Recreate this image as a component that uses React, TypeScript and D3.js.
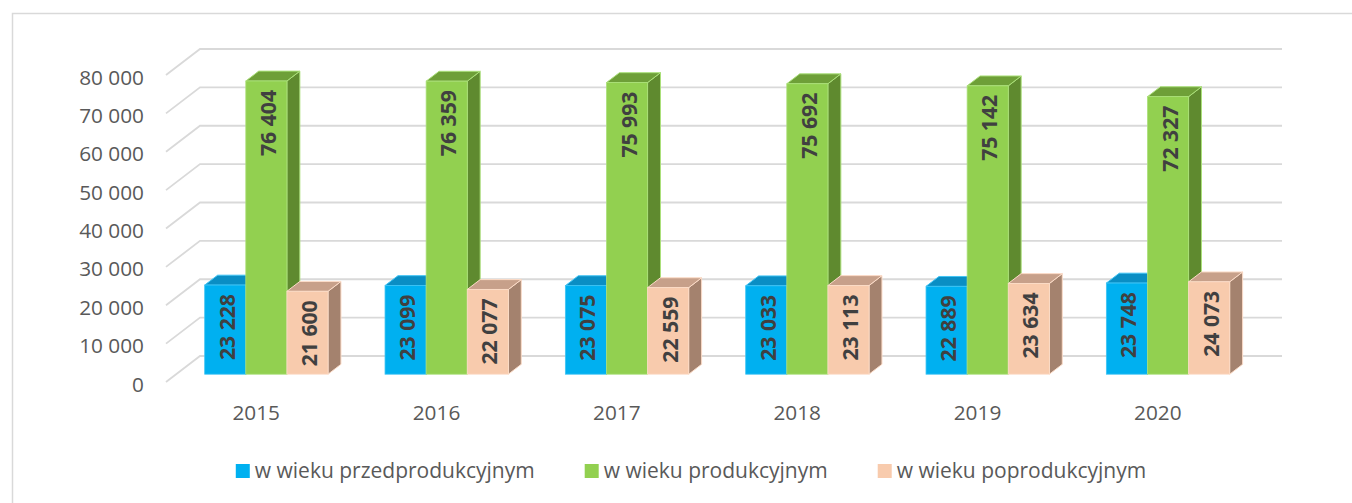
import React, { useEffect, useRef } from "react";
import * as d3 from "d3";

const years = ["2015", "2016", "2017", "2018", "2019", "2020"];
const przedprodukcyjny = [23228, 23099, 23075, 23033, 22889, 23748];
const produkcyjny = [76404, 76359, 75993, 75692, 75142, 72327];
const poprodukcyjny = [21600, 22077, 22559, 23113, 23634, 24073];
const seriesNames = [
  "w wieku przedprodukcyjnym",
  "w wieku produkcyjnym",
  "w wieku poprodukcyjnym",
];
const yTicks = [0, 10000, 20000, 30000, 40000, 50000, 60000, 70000, 80000];

const W = 1352;
const H = 503;
const FONT = "'Open Sans', 'Noto Sans', sans-serif";

const palette = [
  { front: "#00B0F0", top: "#0A8EC4", side: "#0076A6", edge: "#40C4F4" },
  { front: "#92D050", top: "#6E9F38", side: "#5F8A2F", edge: "#ABE07A" },
  { front: "#F8CBAD", top: "#C7A08A", side: "#A4826E", edge: "#FCDCC8" },
];

export default function App() {
  const ref = useRef<SVGSVGElement>(null);

  useEffect(() => {
    const svg = d3.select(ref.current);
    svg.selectAll("*").remove();

    const locale = d3.formatLocale({
      decimal: ",",
      thousands: "\u00a0",
      grouping: [3],
      currency: ["", " zł"],
    });
    const fmt = locale.format(",d");

    // projection
    const x0 = 166;
    const x1 = 1248;
    const DX = 34;
    const DY = 26;
    const d0 = 0.3;
    const d1 = 0.68;
    const y = d3.scaleLinear().domain([0, 80000]).range([382, 75]);

    const series = [przedprodukcyjny, produkcyjny, poprodukcyjny];

    // frame
    svg
      .append("rect")
      .attr("x", 12.5)
      .attr("y", 13.5)
      .attr("width", W + 20)
      .attr("height", H + 20)
      .attr("fill", "none")
      .attr("stroke", "#D9D9D9")
      .attr("stroke-width", 1.5);

    // gridlines
    const grid = svg.append("g");
    yTicks.forEach((t) => {
      const yf = y(t);
      grid
        .append("polyline")
        .attr(
          "points",
          `${x0},${yf} ${x0 + DX},${yf - DY} ${x1 + DX},${yf - DY}`
        )
        .attr("fill", "none")
        .attr("stroke", "#D9D9D9")
        .attr("stroke-width", 1.8);
    });

    // y axis labels
    svg
      .append("g")
      .selectAll("text")
      .data(yTicks)
      .join("text")
      .attr("x", 144)
      .attr("y", (d) => y(d) + 1.5)
      .attr("text-anchor", "end")
      .attr("dominant-baseline", "central")
      .attr("font-family", FONT)
      .attr("font-size", 20.8)
      .attr("fill", "#595959")
      .text((d) => fmt(d));

    const xBand = d3
      .scaleBand<string>()
      .domain(years)
      .range([x0, x1])
      .paddingInner(0.316)
      .paddingOuter(0.158);
    const inner = d3
      .scaleBand<number>()
      .domain([0, 1, 2])
      .range([0, xBand.bandwidth()]);

    const bars = svg.append("g");
    const labels: { x: number; y: number; v: number }[] = [];
    years.forEach((yr, i) => {
      series.forEach((vals, s) => {
        const v = vals[i];
        const c = palette[s];
        const fx = (xBand(yr) as number) + (inner(s) as number);
        const w = inner.bandwidth();
        const ox = d0 * DX;
        const oy = d0 * DY;
        const bx = d1 * DX;
        const by = d1 * DY;
        const left = fx + ox;
        const right = fx + w + ox;
        const bottom = y(0) - oy;
        const top = y(v) - oy;
        const bLeft = fx + bx;
        const bRight = fx + w + bx;
        const bTop = y(v) - by;
        const bBottom = y(0) - by;
        const g = bars.append("g");
        // side face
        g.append("polygon")
          .attr(
            "points",
            `${right},${top} ${bRight},${bTop} ${bRight},${bBottom} ${right},${bottom}`
          )
          .attr("fill", c.side)
          .attr("stroke", c.edge)
          .attr("stroke-width", 1)
          .attr("stroke-linejoin", "round");
        // top face
        g.append("polygon")
          .attr(
            "points",
            `${left},${top} ${bLeft},${bTop} ${bRight},${bTop} ${right},${top}`
          )
          .attr("fill", c.top)
          .attr("stroke", c.edge)
          .attr("stroke-width", 1)
          .attr("stroke-linejoin", "round");
        // front face
        g.append("rect")
          .attr("x", left)
          .attr("y", top)
          .attr("width", w)
          .attr("height", bottom - top)
          .attr("fill", c.front)
          .attr("stroke", c.edge)
          .attr("stroke-width", 0.8);
        labels.push({ x: left + w / 2 + 1, y: top + 42, v });
      });
    });

    // data labels
    svg
      .append("g")
      .selectAll("text")
      .data(labels)
      .join("text")
      .attr("transform", (d) => `translate(${d.x},${d.y}) rotate(-90)`)
      .attr("text-anchor", "middle")
      .attr("dominant-baseline", "central")
      .attr("font-family", FONT)
      .attr("font-size", 21.2)
      .attr("font-weight", "bold")
      .attr("fill", "#404040")
      .text((d) => fmt(d.v));

    // category labels
    svg
      .append("g")
      .selectAll("text")
      .data(years)
      .join("text")
      .attr("x", (d) => (xBand(d) as number) + xBand.bandwidth() / 2)
      .attr("y", 420)
      .attr("text-anchor", "middle")
      .attr("font-family", FONT)
      .attr("font-size", 20.8)
      .attr("fill", "#595959")
      .text((d) => d);

    // legend
    const lg = svg.append("g");
    const sq = 14;
    const gapText = 5;
    const gapItem = 50;
    const items = seriesNames.map((name, i) => {
      const gi = lg.append("g");
      gi.append("rect")
        .attr("width", sq)
        .attr("height", sq)
        .attr("y", 464)
        .attr("fill", palette[i].front);
      const t = gi
        .append("text")
        .attr("x", sq + gapText)
        .attr("y", 478)
        .attr("font-family", FONT)
        .attr("font-size", 21)
        .attr("fill", "#595959")
        .text(name);
      const tw = (t.node() as SVGTextElement).getComputedTextLength();
      return { gi, width: sq + gapText + tw };
    });
    const total =
      d3.sum(items, (d) => d.width) + gapItem * (items.length - 1);
    let cx = 691 - total / 2;
    items.forEach((it) => {
      it.gi.attr("transform", `translate(${cx},0)`);
      cx += it.width + gapItem;
    });
  }, []);

  return (
    <svg
      ref={ref}
      width={W}
      height={H}
      style={{ position: "fixed", left: 0, top: 0, background: "#fff" }}
    />
  );
}
